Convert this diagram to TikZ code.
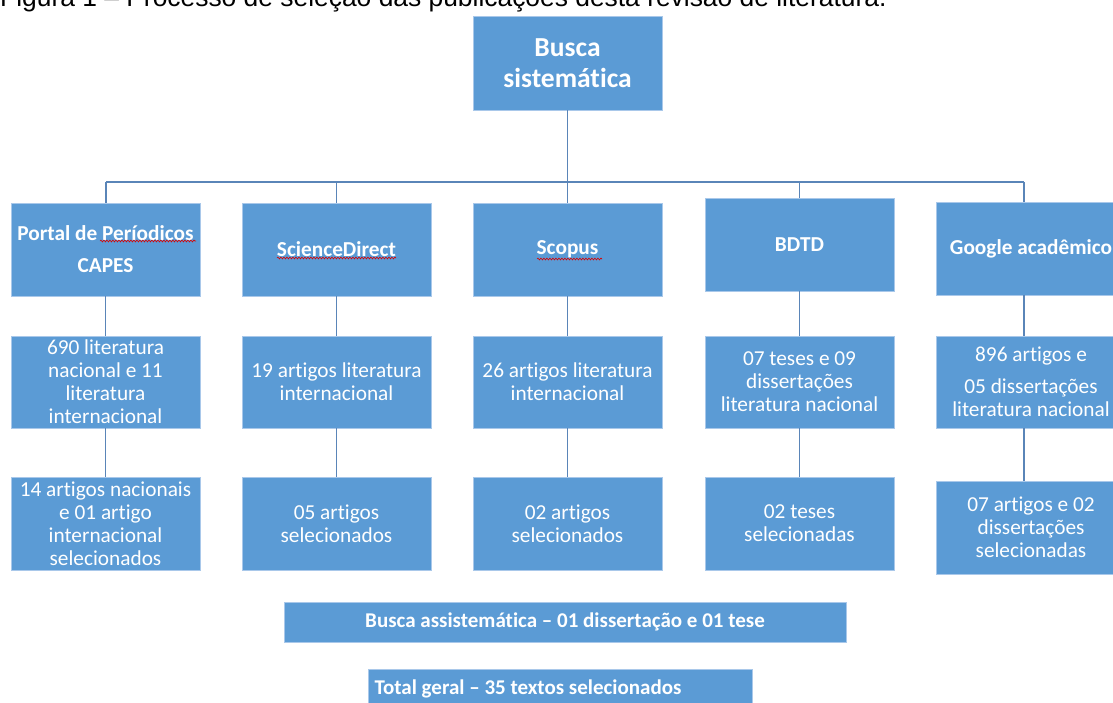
\documentclass[tikz,border=0pt]{standalone}
\usepackage{fontspec}
\setmainfont{Carlito}[Ligatures=CommonOff]
\newfontfamily\capfont{Liberation Sans}
\usetikzlibrary{decorations.pathmorphing}
\definecolor{boxfill}{HTML}{5B9BD5}
\definecolor{boxedge}{HTML}{A9C8EA}
\definecolor{linec}{HTML}{5A85B8}
\begin{document}
\begin{tikzpicture}[x=1pt,y=1pt,
  box/.style={draw=boxedge, line width=0.8pt, fill=boxfill, text=white, align=center,
    minimum width=189pt, minimum height=93pt, inner sep=0pt, font=\fontsize{21.3}{23}\selectfont},
  head/.style={box, font=\bfseries\fontsize{21.3}{32}\selectfont},
  wide/.style={box, minimum height=40pt, font=\bfseries\fontsize{21}{24}\selectfont},
  conn/.style={draw=linec, line width=1.4pt},
  squig/.style={draw=red!85!black, line width=0.6pt, decorate,
    decoration={snake, amplitude=0.9pt, segment length=3pt}}
]
\useasboundingbox (0,0) rectangle (1113,-702);
\node[anchor=base west, font=\capfont\fontsize{26.4}{28}\selectfont, inner sep=0pt] (cap) at (0,-6)
  {Figura 1 – Processo de seleção das publicações desta revisão de literatura.};

% top
\node[box, minimum height=94pt, font=\bfseries\fontsize{27.5}{31}\selectfont] (top) at (567.5,-63) {Busca\\sistemática};

% row 1
\node[head] (P1) at (105.5,-249.5) {Portal de Períodicos\\CAPES};
\node[head] (S1) at (336.5,-249.5) {ScienceDirect};
\node[head] (C1) at (567.5,-249.5) {Scopus};
\node[head] (B1) at (799.5,-244.5) {BDTD};
\node[head] (G1) at (1031,-248.5) {Google acadêmico};

% row 2
\node[box, minimum height=92pt] (P2) at (105.5,-382) {690 literatura\\nacional e 11\\literatura\\internacional};
\node[box, minimum height=92pt] (S2) at (336.5,-382) {19 artigos literatura\\internacional};
\node[box, minimum height=92pt] (C2) at (567.5,-382) {26 artigos literatura\\internacional};
\node[box, minimum height=92pt] (B2) at (799.5,-382) {07 teses e 09\\dissertações\\literatura nacional};
\node[box, minimum height=92pt] (G2) at (1031,-382) {896 artigos e\\[9pt]05 dissertações\\literatura nacional};

% row 3
\node[box] (P3) at (105.5,-523.5) {14 artigos nacionais\\e 01 artigo\\internacional\\selecionados};
\node[box] (S3) at (336.5,-523.5) {05 artigos\\selecionados};
\node[box] (C3) at (567.5,-523.5) {02 artigos\\selecionados};
\node[box] (B3) at (799.5,-523.5) {02 teses\\selecionadas};
\node[box] (G3) at (1031,-527.5) {07 artigos e 02\\dissertações\\selecionadas};

% bottom
\node[wide, minimum width=562pt] (asis) at (565,-622) {Busca assistemática – 01 dissertação e 01 tese};
\node[wide, minimum width=384pt, text width=371pt, align=flush left] (tot) at (560,-689) {Total geral – 35 textos selecionados};

% connectors
\coordinate (busL) at (106,-182);
\coordinate (busR) at (1024,-182);
\draw[conn] (top.south) -- (top.south |- busL);
\draw[conn] (busL) -- (busR);
\draw[conn] (busL) -- (busL |- P1.north);
\draw[conn] (S1.north |- busL) -- (S1.north);
\draw[conn] (C1.north |- busL) -- (C1.north);
\draw[conn] (B1.north |- busL) -- (B1.north);
\draw[conn] (busR) -- (busR |- G1.north);

\draw[conn] (P1.south) -- (P2.north);
\draw[conn] (S1.south) -- (S2.north);
\draw[conn] (C1.south) -- (C2.north);
\draw[conn] (B1.south) -- (B2.north);
\draw[conn] (busR |- G1.south) -- (busR |- G2.north);

\draw[conn] (P2.south) -- (P3.north);
\draw[conn] (S2.south) -- (S3.north);
\draw[conn] (C2.south) -- (C3.north);
\draw[conn] (B2.south) -- (B3.north);
\draw[conn] (busR |- G2.south) -- (busR |- G3.north);

% spell-check squiggles
\draw[squig] (100,-241) -- (196,-241);
\draw[squig] (277,-258) -- (396,-258);
\draw[squig] (537,-259) -- (602,-259);
\end{tikzpicture}
\end{document}
